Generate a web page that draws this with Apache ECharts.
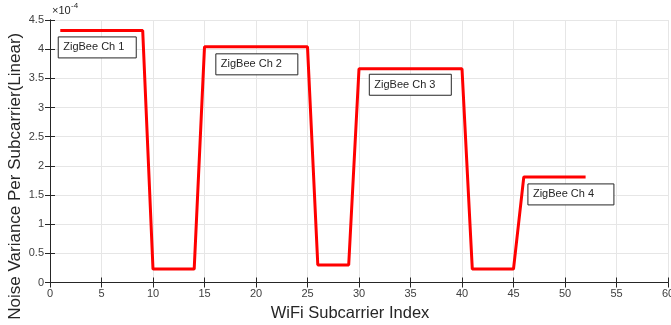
<!DOCTYPE html>
<html>
<head>
<meta charset="utf-8">
<script src="https://cdn.jsdelivr.net/npm/echarts@6/dist/echarts.min.js"></script>
<style>
  html, body { margin: 0; padding: 0; background: #fff; }
  #chart { width: 671px; height: 325px; }
</style>
</head>
<body>
<div id="chart"></div>
<script>
// subcarrier index and noise variance (in units of 1e-4)
const subcarriers = [
  1, 2, 3, 4, 5, 6, 7, 8, 9,
  10, 11, 12, 13, 14,
  15, 16, 17, 18, 19, 20, 21, 22, 23, 24, 25,
  26, 27, 28, 29,
  30, 31, 32, 33, 34, 35, 36, 37, 38, 39, 40,
  41, 42, 43, 44, 45,
  46, 47, 48, 49, 50, 51, 52
];
const noiseVar = [
  4.32, 4.32, 4.32, 4.32, 4.32, 4.32, 4.32, 4.32, 4.32,
  0.23, 0.23, 0.23, 0.23, 0.23,
  4.04, 4.04, 4.04, 4.04, 4.04, 4.04, 4.04, 4.04, 4.04, 4.04, 4.04,
  0.30, 0.30, 0.30, 0.30,
  3.665, 3.665, 3.665, 3.665, 3.665, 3.665, 3.665, 3.665, 3.665, 3.665, 3.665,
  0.23, 0.23, 0.23, 0.23, 0.23,
  1.81, 1.81, 1.81, 1.81, 1.81, 1.81, 1.81
];

// text boxes: label, anchor (top-left) in data coords
const boxLabels = ['ZigBee Ch 1', 'ZigBee Ch 2', 'ZigBee Ch 3', 'ZigBee Ch 4'];
const boxAnchors = [[0.8, 4.21], [16.1, 3.92], [31.0, 3.57], [46.4, 1.69]];
const boxWidths = [78, 82, 82, 86];

const axisColor = '#262626';
const gridColor = '#e6e6e6';
const font = 'Liberation Sans, Arial, sans-serif';

const chart = echarts.init(document.getElementById('chart'));

const tickStyle = { inside: true, length: 5, lineStyle: { color: axisColor } };

chart.setOption({
  animation: false,
  grid: { left: 50, right: 3, top: 20, bottom: 42.5, outerBoundsMode: 'none' },
  xAxis: [{
    type: 'value', min: 0, max: 60, interval: 5,
    name: 'WiFi Subcarrier Index', nameLocation: 'middle', nameGap: 22,
    nameTextStyle: { fontSize: 16.5, color: axisColor, fontFamily: font, padding: [0, 18, 0, 0] },
    axisLine: { lineStyle: { color: axisColor } },
    axisTick: tickStyle,
    axisLabel: { fontSize: 11, color: '#404040', fontFamily: font, margin: 6 },
    splitLine: { show: true, lineStyle: { color: gridColor } }
  }, {
    type: 'value', min: 0, max: 60, interval: 5, position: 'top',
    axisLine: { show: true, lineStyle: { color: axisColor } },
    axisTick: tickStyle, axisLabel: { show: false }, splitLine: { show: false }
  }],
  yAxis: [{
    type: 'value', min: 0, max: 4.5, interval: 0.5,
    name: 'Noise Variance Per Subcarrier(Linear)', nameLocation: 'middle', nameGap: 26,
    nameMoveOverlap: false,
    nameTextStyle: { fontSize: 17, color: axisColor, fontFamily: font, padding: [0, 50, 0, 0] },
    axisLine: { show: true, lineStyle: { color: axisColor } },
    axisTick: tickStyle,
    axisLabel: { fontSize: 11, color: '#404040', fontFamily: font, margin: 6 },
    splitLine: { show: true, lineStyle: { color: gridColor } }
  }, {
    type: 'value', min: 0, max: 4.5, interval: 0.5, position: 'right',
    axisLine: { show: true, lineStyle: { color: axisColor } },
    axisTick: tickStyle, axisLabel: { show: false }, splitLine: { show: false }
  }],
  series: [{
    type: 'line',
    data: subcarriers.map((x, i) => [x, noiseVar[i]]),
    showSymbol: false,
    lineStyle: { color: '#ff0000', width: 3 },
    z: 5
  }]
});

// annotation boxes placed via data coordinates
const graphics = boxLabels.map((t, i) => {
  const p = chart.convertToPixel({ gridIndex: 0 }, boxAnchors[i]);
  return {
    type: 'group', x: p[0], y: p[1], z: 10,
    children: [
      { type: 'rect', shape: { x: 0, y: 0, width: boxWidths[i], height: 21 },
        style: { fill: '#fff', stroke: axisColor, lineWidth: 1 } },
      { type: 'text', x: 5, y: 10.5,
        style: { text: t, fill: axisColor, font: '11px ' + font, verticalAlign: 'middle' } }
    ]
  };
});
graphics.push({
  type: 'text', left: 52, top: 5,
  style: { text: '\u00d710', fill: axisColor, font: '11px ' + font }
});
graphics.push({
  type: 'text', left: 71, top: 2,
  style: { text: '-4', fill: axisColor, font: '8px ' + font }
});
chart.setOption({ graphic: graphics });
</script>
</body>
</html>
